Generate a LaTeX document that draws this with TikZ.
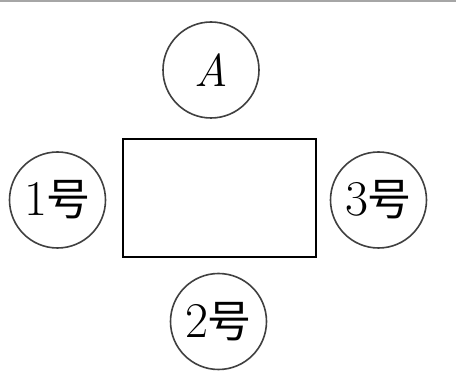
\documentclass[tikz,border=0pt]{standalone}
\usepackage{fontspec}
\newfontfamily\cjk{Noto Sans CJK SC}
\begin{document}
\begin{tikzpicture}[x=1pt,y=1pt,
  ring/.style={draw=black!75, line width=1.6pt, circle, minimum size=96pt, inner sep=0pt, font=\fontsize{50}{52}\selectfont},
  tablebox/.style={draw=black, line width=2pt, rectangle, minimum width=193pt, minimum height=118pt, inner sep=0pt}]
\useasboundingbox (0,0) rectangle (456,375);
\coordinate (tl) at (0,374.2);
\coordinate (tr) at (456,374.2);
\draw[black!35, line width=1.6pt] (tl) -- (tr);
\node[ring, font=\fontsize{46}{48}\selectfont] (A) at (211,305) {\textit{A}};
\node[ring] (n1) at (57.5,175) {1{\cjk\fontsize{44}{46}\selectfont 号}};
\node[ring] (n3) at (378.5,175) {3{\cjk\fontsize{44}{46}\selectfont 号}};
\node[ring] (n2) at (218.5,53.5) {2{\cjk\fontsize{44}{46}\selectfont 号}};
\node[tablebox] (t) at (219.5,177) {};
\end{tikzpicture}
\end{document}
